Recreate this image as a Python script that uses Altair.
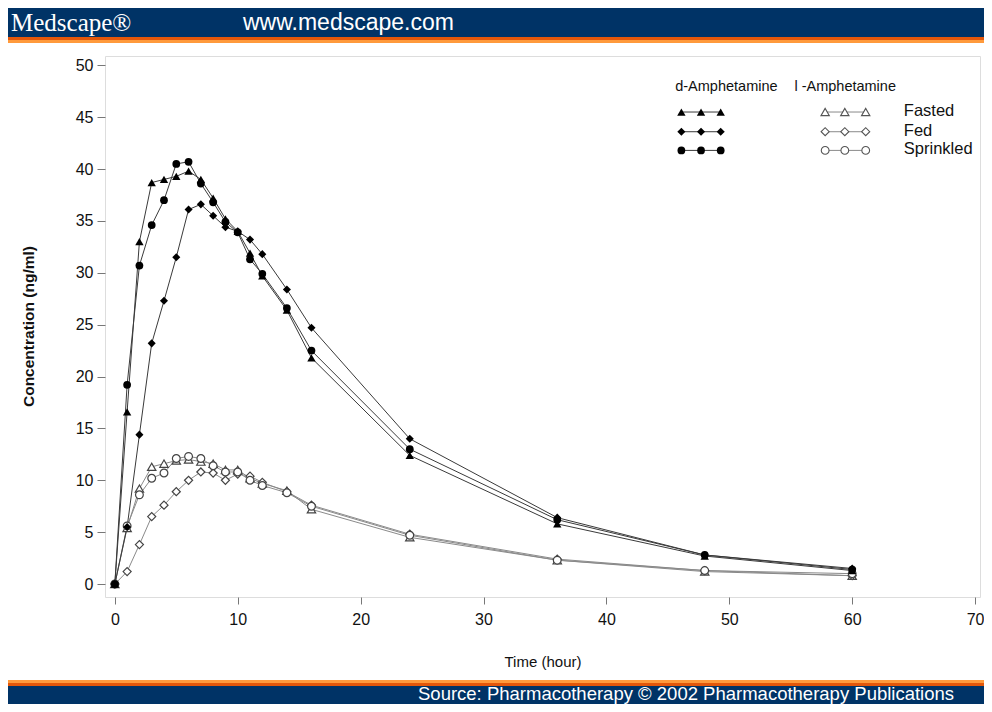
import altair as alt
import pandas as pd

# ---------------- data ----------------
times = [0, 1, 2, 3, 4, 5, 6, 7, 8, 9, 10, 11, 12, 14, 16, 24, 36, 48, 60]

d_fasted = [0, 16.6, 33.0, 38.7, 39.0, 39.3, 39.8, 39.0, 37.2, 35.2, 34.0, 31.9, 29.7, 26.4, 21.8, 12.4, 5.8, 2.7, 1.3]
d_fed = [0, 5.5, 14.4, 23.2, 27.3, 31.5, 36.1, 36.6, 35.5, 34.4, 34.0, 33.2, 31.8, 28.4, 24.7, 14.0, 6.4, 2.8, 1.5]
d_sprinkled = [0, 19.2, 30.7, 34.6, 37.0, 40.5, 40.7, 38.6, 36.8, 34.9, 33.9, 31.3, 29.9, 26.6, 22.5, 13.0, 6.2, 2.8, 1.4]

l_fasted = [0, 5.4, 9.2, 11.3, 11.6, 11.9, 12.0, 11.8, 11.6, 11.0, 11.0, 10.2, 9.7, 9.0, 7.2, 4.5, 2.3, 1.2, 0.8]
l_fed = [0, 1.2, 3.8, 6.5, 7.6, 8.9, 10.0, 10.8, 10.7, 10.0, 10.6, 10.4, 9.8, 8.9, 7.6, 4.8, 2.4, 1.3, 0.8]
l_sprinkled = [0, 5.6, 8.6, 10.2, 10.7, 12.1, 12.3, 12.1, 11.4, 10.8, 10.8, 10.0, 9.5, 8.8, 7.5, 4.7, 2.3, 1.3, 1.0]

conditions = ["Fasted", "Fed", "Sprinkled"]
x_ticks = [0, 10, 20, 30, 40, 50, 60, 70]
y_ticks = [0, 5, 10, 15, 20, 25, 30, 35, 40, 45, 50]

series = {
    ("d", "Fasted"): d_fasted, ("d", "Fed"): d_fed, ("d", "Sprinkled"): d_sprinkled,
    ("l", "Fasted"): l_fasted, ("l", "Fed"): l_fed, ("l", "Sprinkled"): l_sprinkled,
}
rows = []
for (iso, cond), vals in series.items():
    for t, v in zip(times, vals):
        rows.append({"t": t, "conc": v, "iso": iso, "cond": cond, "series": iso + "-" + cond})
df = pd.DataFrame(rows)

# legend (data-space layout)
leg_rows = []
for cond, yy in zip(conditions, [45.5, 43.6, 41.8]):
    for xx in [46.1, 47.7, 49.3]:
        leg_rows.append({"t": xx, "conc": yy, "iso": "d", "cond": cond, "series": "d-" + cond})
    for xx in [57.8, 59.4, 61.1]:
        leg_rows.append({"t": xx, "conc": yy, "iso": "l", "cond": cond, "series": "l-" + cond})
leg = pd.DataFrame(leg_rows)
leg_labels = pd.DataFrame({"t": [64.2] * 3, "conc": [45.6, 43.7, 41.9], "label": conditions})
leg_heads = pd.DataFrame({"t": [45.6, 55.3], "conc": [47.9, 47.9], "label": ["d-Amphetamine", "l -Amphetamine"]})

FONT = "Liberation Sans"
W, H = 875, 541

xs = alt.Scale(domain=[-0.8, 70.4], nice=False, zero=False)
ys = alt.Scale(domain=[-1.25, 50.9], nice=False, zero=False)
shape_scale = alt.Scale(domain=conditions, range=["triangle-up", "diamond", "circle"])
size_scale = alt.Scale(domain=conditions, range=[70, 60, 85])

X = alt.X("t:Q", scale=xs, axis=alt.Axis(values=x_ticks, title="Time (hour)", grid=False, domain=False,
          tickColor="#777", tickSize=7, labelFontSize=16, labelPadding=7, labelColor="#111",
          titleFontSize=15, titleFontWeight="normal", titleY=64, titleBaseline="middle", titleColor="#111",
          labelFont=FONT, titleFont=FONT))
Y = alt.Y("conc:Q", scale=ys, axis=alt.Axis(values=y_ticks, title="Concentration (ng/ml)", grid=False,
          domain=False, tickColor="#777", tickSize=8, labelFontSize=16, labelPadding=4, labelColor="#111",
          titleFontSize=15.5, titleFontWeight="bold", titleX=-77, titleY=270, titleAngle=-90,
          titleAlign="center", titleBaseline="middle", titleColor="#111", labelFont=FONT, titleFont=FONT))

base = alt.Chart(df)

lines_d = base.transform_filter("datum.iso == 'd'").mark_line(color="#3a3a3a", strokeWidth=1).encode(
    x=X, y=Y, detail="series:N", order="t:Q")
lines_l = base.transform_filter("datum.iso == 'l'").mark_line(color="#8a8a8a", strokeWidth=1).encode(
    x=X, y=Y, detail="series:N", order="t:Q")

pts_l = base.transform_filter("datum.iso == 'l'").mark_point(
    fill="white", stroke="#444", strokeWidth=1.2, opacity=1, fillOpacity=1).encode(
    x=X, y=Y,
    shape=alt.Shape("cond:N", scale=shape_scale, legend=None),
    size=alt.Size("cond:O", scale=size_scale, legend=None))
pts_d = base.transform_filter("datum.iso == 'd'").mark_point(
    filled=True, color="black", opacity=1).encode(
    x=X, y=Y,
    shape=alt.Shape("cond:N", scale=shape_scale, legend=None),
    size=alt.Size("cond:O", scale=size_scale, legend=None))

legb = alt.Chart(leg)
leg_line_d = legb.transform_filter("datum.iso == 'd'").mark_line(color="#3a3a3a", strokeWidth=1).encode(
    x="t:Q", y="conc:Q", detail="series:N")
leg_line_l = legb.transform_filter("datum.iso == 'l'").mark_line(color="#8a8a8a", strokeWidth=1).encode(
    x="t:Q", y="conc:Q", detail="series:N")
leg_pts_d = legb.transform_filter("datum.iso == 'd'").mark_point(filled=True, color="black", opacity=1).encode(
    x="t:Q", y="conc:Q",
    shape=alt.Shape("cond:N", scale=shape_scale, legend=None),
    size=alt.Size("cond:O", scale=alt.Scale(domain=conditions, range=[55, 50, 70]), legend=None))
leg_pts_l = legb.transform_filter("datum.iso == 'l'").mark_point(
    fill="white", stroke="#555", strokeWidth=1.1, opacity=1, fillOpacity=1).encode(
    x="t:Q", y="conc:Q",
    shape=alt.Shape("cond:N", scale=shape_scale, legend=None),
    size=alt.Size("cond:O", scale=alt.Scale(domain=conditions, range=[45, 40, 55]), legend=None))
leg_lab = alt.Chart(leg_labels).mark_text(align="left", baseline="middle", fontSize=16.5, font=FONT,
                                          color="#111").encode(x="t:Q", y="conc:Q", text="label:N")
leg_head = alt.Chart(leg_heads).mark_text(align="left", baseline="middle", fontSize=14.5, font=FONT,
                                          color="#111").encode(x="t:Q", y="conc:Q", text="label:N")

one = pd.DataFrame({"a": [0]})
NAVY = "#003366"


def band(x1, x2, y1, y2, color):
    return alt.Chart(one).mark_rect(color=color, clip=False).encode(
        x=alt.value(x1), x2=alt.value(x2), y=alt.value(y1), y2=alt.value(y2))


def txt(s, x, y, size, font, align="left", weight="normal", color="white"):
    return alt.Chart(one).mark_text(text=s, align=align, baseline="middle", fontSize=size, font=font,
                                    fontWeight=weight, color=color, clip=False).encode(
        x=alt.value(x), y=alt.value(y))


deco = [
    band(-97, 879, -48, -19, NAVY),
    band(-97, 879, -19, -16, "#e4570a"),
    band(-97, 879, -16, -13, "#ff9a3c"),
    band(-97, 879, 624, 627, "#ff9a3c"),
    band(-97, 879, 627, 630, "#e4570a"),
    band(-97, 879, 630, 650, NAVY),
    txt("Medscape\u00ae", -94, -33, 25, "Liberation Serif"),
    txt("www.medscape.com", 138, -33, 23, FONT),
    txt("Source: Pharmacotherapy \u00a9 2002 Pharmacotherapy Publications", 313, 638, 18.5, FONT),
]

chart = alt.layer(
    *deco, lines_l, lines_d, pts_l, pts_d,
    leg_line_d, leg_line_l, leg_pts_d, leg_pts_l, leg_lab, leg_head
).properties(
    width=W, height=H,
    autosize=alt.AutoSizeParams(type="none"),
    padding={"left": 97, "top": 48, "right": 4, "bottom": 107},
).configure_view(stroke="#8c8c8c", strokeWidth=1.2).configure(background="white")

chart.save("out.html", embed_options={"renderer": "svg", "actions": False})
